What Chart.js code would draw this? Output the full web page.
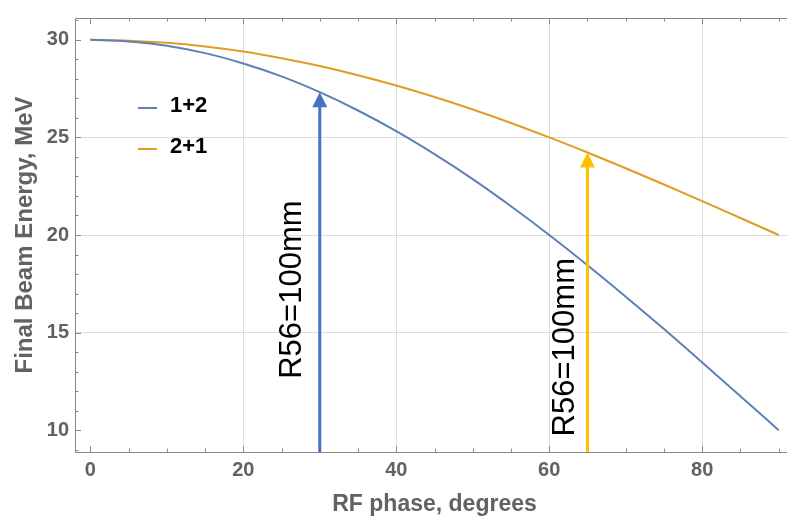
<!DOCTYPE html>
<html>
<head>
<meta charset="utf-8">
<script src="https://cdn.jsdelivr.net/npm/chart.js@4.4.0/dist/chart.umd.min.js"></script>
<style>
  html, body { margin: 0; padding: 0; background: #fff; overflow: hidden; }
  #wrap { width: 800px; height: 520px; }
</style>
</head>
<body>
<div id="wrap"><canvas id="chart" width="800" height="520"></canvas></div>
<script>
// phase in degrees, energies in MeV
const phase = [0, 5, 10, 15, 20, 25, 30, 35, 40, 45, 50, 55, 60, 65, 70, 75, 80, 85, 90];
const energy12 = [30.0, 29.92, 29.7, 29.32, 28.79, 28.13, 27.32, 26.38, 25.32, 24.14, 22.86, 21.47, 20.0, 18.45, 16.84, 15.18, 13.47, 11.74, 10.0];
const energy21 = [30.0, 29.96, 29.85, 29.66, 29.4, 29.06, 28.66, 28.19, 27.66, 27.07, 26.43, 25.74, 25.0, 24.23, 23.42, 22.59, 21.74, 20.87, 20.0];
const seriesNames = ['1+2', '2+1'];

const xTicks = [0, 20, 40, 60, 80];
const yTicks = [10, 15, 20, 25, 30];

// arrows marking R56=100mm
const arrowPhase = [30, 65];
const arrowTip = [27.32, 24.23];
const arrowText = ['R56=100mm', 'R56=100mm'];

const BLUE = '#5E81B5', ORANGE = '#E19C24';
const ARROW_COLORS = ['#4472C4', '#FFC000'];
const FRAME = '#8a8a8a', GRID = '#dcdcdc', LABEL = '#626262';

const toXY = (ys) => phase.map((x, i) => ({ x: x, y: ys[i] }));

const framePlugin = {
    id: 'frame',
    afterDatasetsDraw(chart) {
        const { ctx, chartArea: a, scales: { x, y } } = chart;
        ctx.save();
        ctx.strokeStyle = FRAME;
        ctx.lineWidth = 1;
        ctx.strokeRect(a.left + 0.5, a.top + 0.5, a.right - a.left, a.bottom - a.top);
        ctx.beginPath();
        for (let v = 0; v <= 90; v += 5) {
            const px = Math.round(x.getPixelForValue(v)) + 0.5;
            const len = v % 20 === 0 ? 6 : 3.5;
            ctx.moveTo(px, a.bottom); ctx.lineTo(px, a.bottom - len);
            ctx.moveTo(px, a.top); ctx.lineTo(px, a.top + len);
        }
        for (let v = 9; v <= 31; v += 1) {
            const py = Math.round(y.getPixelForValue(v)) + 0.5;
            const len = v % 5 === 0 ? 6 : 3.5;
            ctx.moveTo(a.left, py); ctx.lineTo(a.left + len, py);
            ctx.moveTo(a.right, py); ctx.lineTo(a.right - len, py);
        }
        ctx.stroke();
        ctx.restore();
    }
};

const arrowPlugin = {
    id: 'arrows',
    afterDatasetsDraw(chart) {
        const { ctx, chartArea: a, scales: { x, y } } = chart;
        ctx.save();
        arrowPhase.forEach((p, i) => {
            const px = x.getPixelForValue(p);
            const tip = y.getPixelForValue(arrowTip[i]);
            const head = 15;
            ctx.strokeStyle = ARROW_COLORS[i];
            ctx.fillStyle = ARROW_COLORS[i];
            ctx.lineWidth = 3;
            ctx.beginPath();
            ctx.moveTo(px, a.bottom);
            ctx.lineTo(px, tip + head - 1);
            ctx.stroke();
            ctx.beginPath();
            ctx.moveTo(px, tip);
            ctx.lineTo(px - 7.5, tip + head);
            ctx.lineTo(px + 7.5, tip + head);
            ctx.closePath();
            ctx.fill();
        });
        // rotated labels beside the arrows
        const labelAt = [{ x: 26.3, y: 17.2 }, { x: 62.0, y: 14.25 }];
        ctx.fillStyle = '#000';
        ctx.font = '31px "Liberation Sans", Arial, sans-serif';
        ctx.textAlign = 'center';
        ctx.textBaseline = 'middle';
        labelAt.forEach((pos, i) => {
            ctx.save();
            ctx.translate(x.getPixelForValue(pos.x), y.getPixelForValue(pos.y));
            ctx.rotate(-Math.PI / 2);
            ctx.fillText(arrowText[i], 0, 1);
            ctx.restore();
        });
        ctx.restore();
    }
};

const legendPlugin = {
    id: 'plotLegend',
    afterDraw(chart) {
        const { ctx } = chart;
        const colors = [BLUE, ORANGE];
        const rows = [108, 149];
        ctx.save();
        ctx.font = 'bold 22px "Liberation Sans", Arial, sans-serif';
        ctx.textBaseline = 'middle';
        ctx.textAlign = 'left';
        seriesNames.forEach((name, i) => {
            ctx.strokeStyle = colors[i];
            ctx.lineWidth = 2;
            ctx.beginPath();
            ctx.moveTo(138, rows[i]);
            ctx.lineTo(157, rows[i]);
            ctx.stroke();
            ctx.fillStyle = '#000';
            ctx.fillText(name, 170, rows[i] - 2);
        });
        ctx.restore();
    }
};

const tickFont = { family: '"Liberation Sans", Arial, sans-serif', size: 20, weight: 'bold' };
const titleFont = { family: '"Liberation Sans", Arial, sans-serif', size: 23, weight: 'bold' };

new Chart(document.getElementById('chart').getContext('2d'), {
    type: 'line',
    data: {
        datasets: [
            { label: seriesNames[0], data: toXY(energy12), borderColor: BLUE, borderWidth: 2, pointRadius: 0, cubicInterpolationMode: 'monotone', fill: false },
            { label: seriesNames[1], data: toXY(energy21), borderColor: ORANGE, borderWidth: 2, pointRadius: 0, cubicInterpolationMode: 'monotone', fill: false }
        ]
    },
    options: {
        responsive: false,
        animation: false,
        layout: { padding: { left: 0, top: 9, right: 6, bottom: 0 } },
        plugins: { legend: { display: false }, tooltip: { enabled: false } },
        scales: {
            x: {
                type: 'linear', min: -2, max: 92,
                afterBuildTicks: (s) => { s.ticks = xTicks.map(v => ({ value: v })); },
                afterFit: (s) => { s.height = 68; },
                grid: { drawTicks: false, color: (c) => (c.tick && c.tick.value > 0 && c.tick.value < 90) ? GRID : 'rgba(0,0,0,0)' },
                border: { display: false },
                ticks: { color: LABEL, font: tickFont, padding: 6, maxRotation: 0 },
                title: { display: true, text: 'RF phase, degrees', color: LABEL, font: titleFont, padding: { top: 0, bottom: 2 } }
            },
            y: {
                type: 'linear', min: 8.88, max: 31.12,
                afterBuildTicks: (s) => { s.ticks = yTicks.map(v => ({ value: v })); },
                afterFit: (s) => { s.width = 75; },
                grid: { drawTicks: false, color: (c) => (c.tick && c.tick.value > 10 && c.tick.value < 30) ? GRID : 'rgba(0,0,0,0)' },
                border: { display: false },
                ticks: { color: LABEL, font: tickFont, padding: 6 },
                title: { display: true, text: 'Final Beam Energy, MeV', color: LABEL, font: { ...titleFont, size: 24 }, padding: { top: 11, bottom: 0 } }
            }
        }
    },
    plugins: [framePlugin, arrowPlugin, legendPlugin]
});
</script>
</body>
</html>
